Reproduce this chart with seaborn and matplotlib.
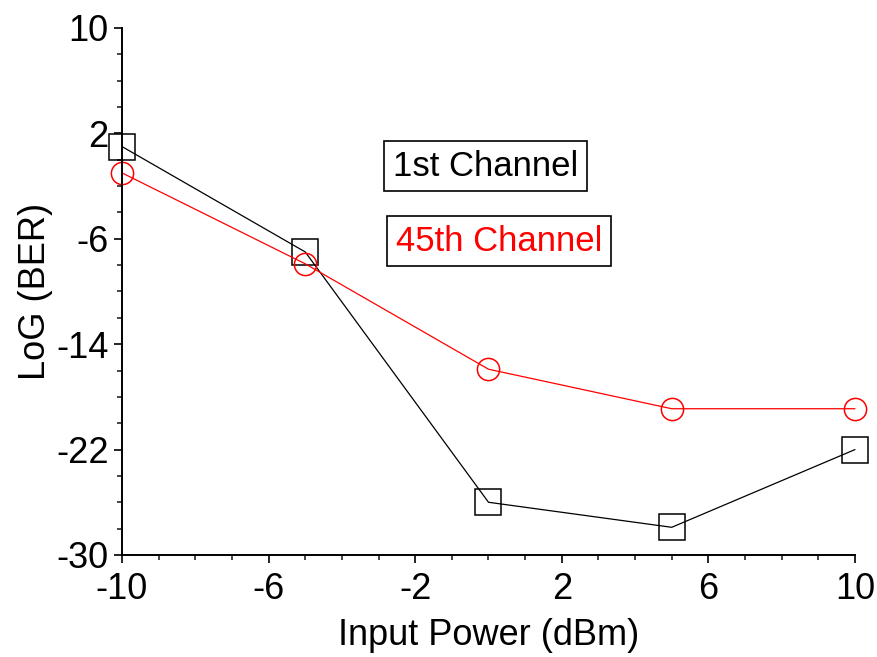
import matplotlib
matplotlib.use("Agg")
import matplotlib.pyplot as plt
import seaborn as sns
import pandas as pd
from matplotlib.ticker import MultipleLocator

# values
power = [-10, -5, 0, 5, 10]
ber_ch1 = [1.0, -7.0, -26.0, -27.9, -22.0]
ber_ch45 = [-1.0, -7.9, -15.9, -18.9, -18.9]
labels = ["1st Channel", "45th Channel"]
colors = ["black", "red"]

sns.set_style("ticks")
plt.rcParams["font.family"] = ["Liberation Sans", "DejaVu Sans"]
plt.rcParams["axes.unicode_minus"] = False
plt.rcParams["axes.labelcolor"] = "black"
plt.rcParams["text.color"] = "black"

fig = plt.figure(figsize=(8.77, 6.57), dpi=100)
ax = fig.add_axes([0.1391, 0.1553, 0.8358, 0.8021])

df1 = pd.DataFrame({"x": power, "y": ber_ch1})
df2 = pd.DataFrame({"x": power, "y": ber_ch45})

sns.lineplot(data=df1, x="x", y="y", ax=ax, color=colors[0], lw=0.9,
             marker="s", markersize=18.5, markerfacecolor="none",
             markeredgecolor=colors[0], markeredgewidth=1.1, clip_on=False)
sns.lineplot(data=df2, x="x", y="y", ax=ax, color=colors[1], lw=0.9,
             marker="o", markersize=16, markerfacecolor="none",
             markeredgecolor=colors[1], markeredgewidth=1.1, clip_on=False)

ax.set_xlim(-10, 10)
ax.set_ylim(-30, 10)
ax.xaxis.set_minor_locator(MultipleLocator(1))
ax.yaxis.set_minor_locator(MultipleLocator(2))
ax.set_xticks([-10, -6, -2, 2, 6, 10])
ax.set_yticks([10, 2, -6, -14, -22, -30])
ax.tick_params(axis="x", which="major", pad=6)
ax.tick_params(which="major", direction="out", length=6, width=1.2,
               labelsize=26, colors="black")
ax.tick_params(which="minor", direction="out", length=3.5, width=1.2)
sns.despine(ax=ax)
for s in ["left", "bottom"]:
    ax.spines[s].set_linewidth(1.4)
    ax.spines[s].set_color("black")

ax.set_xlabel("Input Power (dBm)", fontsize=26, labelpad=8)
ax.set_ylabel("LoG (BER)", fontsize=26, labelpad=2)

box = dict(boxstyle="square,pad=0.25", facecolor="white", edgecolor="black", lw=1.2)
fig.text(0.448, 0.747, labels[0], fontsize=25, color=colors[0], va="center",
         ha="left", bbox=box)
fig.text(0.4515, 0.633, labels[1], fontsize=25, color=colors[1], va="center",
         ha="left", bbox=box)

fig.savefig("out.png", dpi=100)
